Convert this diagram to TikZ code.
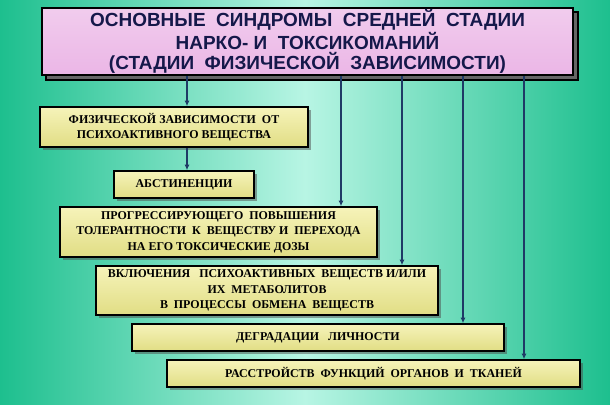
\documentclass[tikz,border=0pt]{standalone}
\usepackage{fontspec}
\setmainfont{Liberation Serif}
\newfontfamily\headfont{Liberation Sans}
\usetikzlibrary{shadows,arrows.meta}
\definecolor{tealedge}{HTML}{1DBF8E}
\definecolor{tealmid}{HTML}{B8F5E4}
\definecolor{navy}{HTML}{1F3A66}
\definecolor{headink}{HTML}{15184A}
\definecolor{boxfill}{HTML}{F2EE9C}
\definecolor{pinkfill}{HTML}{EBB6E6}
\begin{document}
\begin{tikzpicture}[x=0.025cm, y=-0.025cm,
    stage/.style={draw=black, line width=1pt, top color=boxfill!70!white, bottom color=boxfill!85!olive,
        drop shadow={shadow xshift=2pt, shadow yshift=-2pt, fill=black!70},
        font=\bfseries\fontsize{8.5}{11}\selectfont, align=center, inner sep=0pt},
    link/.style={navy, line width=1.4pt, -{Latex[length=4pt,width=3.5pt]}}
        ]

    \shade [left color=tealedge, right color=tealedge, middle color=tealmid, use as bounding box]
        (0,0) rectangle (610,405);

    % title
    \draw [line width=1.2pt, fill=black!60] (46,12) rectangle (578,80);
    \node (title) [draw=black, line width=1.2pt, top color=pinkfill!70!white, bottom color=pinkfill,
        minimum width=531*0.025cm, minimum height=67*0.025cm, inner sep=0pt, align=center,
        text=headink, font=\headfont\bfseries\fontsize{13.5}{14.5}\selectfont]
        at (307.5,41.5) {ОСНОВНЫЕ\ \ СИНДРОМЫ\ \ СРЕДНЕЙ\ \ СТАДИИ\\
        НАРКО- И\ \ ТОКСИКОМАНИЙ\\ (СТАДИИ\ \ ФИЗИЧЕСКОЙ\ \ ЗАВИСИМОСТИ)};

    % stages
    \node (dep) [stage, minimum width=268*0.025cm, minimum height=40*0.025cm] at (174,127)
        {ФИЗИЧЕСКОЙ ЗАВИСИМОСТИ\ \ ОТ\\ ПСИХОАКТИВНОГО ВЕЩЕСТВА};
    \node (abst) [stage, minimum width=140*0.025cm, minimum height=27*0.025cm] at (184,184.5)
        {АБСТИНЕНЦИИ};
    \node (tol) [stage, minimum width=317*0.025cm, minimum height=50*0.025cm] at (218.5,232)
        {ПРОГРЕССИРУЮЩЕГО\ \ ПОВЫШЕНИЯ\\ ТОЛЕРАНТНОСТИ\ \ К\ \ ВЕЩЕСТВУ И\ \ ПЕРЕХОДА\\ НА ЕГО ТОКСИЧЕСКИЕ ДОЗЫ};
    \node (meta) [stage, minimum width=342*0.025cm, minimum height=49*0.025cm] at (267,290.5)
        {ВКЛЮЧЕНИЯ\ \ \ ПСИХОАКТИВНЫХ\ \ ВЕЩЕСТВ И/ИЛИ\\ ИХ\ \ МЕТАБОЛИТОВ\\ В\ \ ПРОЦЕССЫ\ \ ОБМЕНА\ \ ВЕЩЕСТВ};
    \node (degr) [stage, minimum width=372*0.025cm, minimum height=27*0.025cm] at (318,337.5)
        {ДЕГРАДАЦИИ\ \ \ ЛИЧНОСТИ};
    \node (organ) [stage, minimum width=413*0.025cm, minimum height=27*0.025cm] at (373.5,373.5)
        {РАССТРОЙСТВ\ \ ФУНКЦИЙ\ \ ОРГАНОВ\ \ И\ \ ТКАНЕЙ};

    % links
    \draw [link] (title.south -| 187,0) -- (dep.north -| 187,0);
    \draw [link] (dep.south -| 187,0) -- (abst.north -| 187,0);
    \draw [link] (title.south -| 341,0) -- (tol.north -| 341,0);
    \draw [link] (title.south -| 402,0) -- (meta.north -| 402,0);
    \draw [link] (title.south -| 463,0) -- (degr.north -| 463,0);
    \draw [link] (title.south -| 524,0) -- (organ.north -| 524,0);

\end{tikzpicture}
\end{document}
